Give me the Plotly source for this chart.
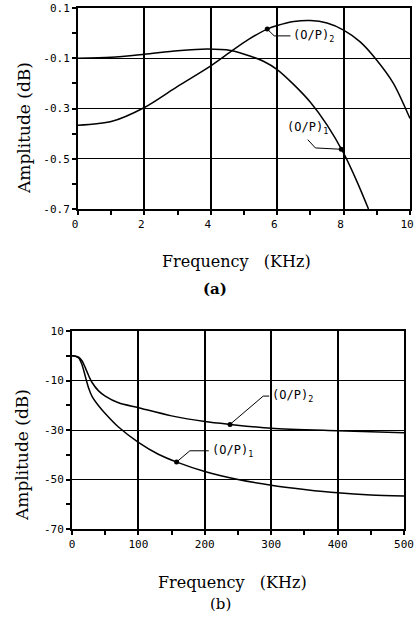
import numpy as np
import plotly.graph_objects as go

# ---------------- data ----------------
# (a) 0-10 kHz
a_x1 = [0, 1, 2, 3, 3.9, 4.6, 5.2, 5.6, 6, 6.5, 7, 7.5, 8, 8.4, 8.75]
a_y1 = [-0.100, -0.096, -0.084, -0.070, -0.063, -0.069, -0.092, -0.113, -0.145,
        -0.205, -0.275, -0.365, -0.478, -0.59, -0.70]
a_x2 = [0, 1, 2, 3, 4, 4.65, 5.15, 5.7, 6, 6.5, 7, 7.5, 8, 8.5, 9, 9.5, 10]
a_y2 = [-0.367, -0.352, -0.296, -0.212, -0.130, -0.069, -0.024, 0.016, 0.030,
        0.046, 0.050, 0.040, 0.012, -0.035, -0.108, -0.200, -0.340]

# (b) 0-500 kHz
b_x1 = [0, 5, 10, 15, 20, 25, 30, 40, 50, 70, 100, 130, 160, 200, 250, 300, 350, 400, 450, 500]
b_y1 = [0, -0.2, -0.9, -3.5, -8.3, -13.0, -16.3, -20.2, -23.3, -28.8, -35.0, -39.8,
        -43.2, -46.8, -50.0, -52.3, -54.0, -55.4, -56.3, -56.7]
b_x2 = [0, 5, 10, 15, 20, 25, 30, 40, 50, 70, 100, 150, 200, 240, 300, 400, 500]
b_y2 = [0, -0.2, -0.6, -2.0, -4.8, -8.0, -10.7, -14.2, -16.3, -19.0, -21.0, -24.3,
        -26.6, -27.8, -29.3, -30.3, -31.1]

# tick labels
a_xticks = [0, 2, 4, 6, 8, 10]
a_xtext = ["0", "2", "4", "6", "8", "10"]
a_yticks = [-0.7, -0.5, -0.3, -0.1, 0.1]
a_ytext = ["-0.7", "-0.5", "-0.3", "-0.1", "0.1"]
b_xticks = [0, 100, 200, 300, 400, 500]
b_xtext = ["0", "100", "200", "300", "400", "500"]
b_yticks = [-70, -50, -30, -10, 10]
b_ytext = ["-70", "-50", "-30", "-10", "10"]

# callouts: text, x of point on curve, text anchor (x, y), elbow (x, y), leader end (x, y)
a_lab1 = ("(O/P)<sub>1</sub>", 7.93, (6.22, -0.376), (6.92, -0.424), (7.15, -0.457))
a_lab2 = ("(O/P)<sub>2</sub>", 5.70, (6.43, -0.011), (5.91, -0.011), (6.40, -0.011))
b_lab1 = ("(O/P)<sub>1</sub>", 157.5, (208, -38.4), (177.5, -38.4), (206, -38.4))
b_lab2 = ("(O/P)<sub>2</sub>", 238.0, (298, -16.3), (288, -16.3), (297, -16.3))

W, H = 415, 624
def px(x): return x / W
def py(y): return 1 - y / H

SERIF = "DejaVu Serif"
MONO = "DejaVu Sans Mono"

fig = go.Figure()

def curve(x, y, xa, ya):
    fig.add_trace(go.Scatter(x=x, y=y, mode="lines", xaxis=xa, yaxis=ya,
                             line=dict(color="black", width=1.5, shape="spline", smoothing=0.8),
                             showlegend=False, hoverinfo="skip"))

curve(a_x1, a_y1, "x", "y")
curve(a_x2, a_y2, "x", "y")
curve(b_x1, b_y1, "x2", "y2")
curve(b_x2, b_y2, "x2", "y2")

def callout(lab, cx, cy, xa, ya, marker_first=True):
    text, xm, (tx, ty), (ex, ey), (hx, hy) = lab
    ym = float(np.interp(xm, cx, cy))
    if marker_first:
        lx, ly = [xm, ex, hx], [ym, ey, hy]
    else:
        lx, ly = [ex, hx, xm], [ey, hy, ym]
    fig.add_trace(go.Scatter(x=lx, y=ly, mode="lines", xaxis=xa, yaxis=ya,
                             line=dict(color="black", width=1), showlegend=False, hoverinfo="skip"))
    fig.add_trace(go.Scatter(x=[xm], y=[ym], mode="markers", xaxis=xa, yaxis=ya,
                             marker=dict(color="black", size=5), showlegend=False, hoverinfo="skip"))
    fig.add_annotation(x=tx, y=ty, xref=xa, yref=ya, text=text, showarrow=False,
                       xanchor="left", yanchor="middle",
                       font=dict(family=MONO, size=12, color="black"))

callout(a_lab1, a_x1, a_y1, "x", "y", marker_first=False)
callout(a_lab2, a_x2, a_y2, "x", "y")
callout(b_lab1, b_x1, b_y1, "x2", "y2")
callout(b_lab2, b_x2, b_y2, "x2", "y2")

tickfont = dict(family=MONO, size=11, color="black")
common = dict(showline=True, mirror=True, linecolor="black", linewidth=2,
              ticks="outside", ticklen=4, tickwidth=1.5, tickcolor="black",
              tickfont=tickfont, zeroline=False, showgrid=True, gridcolor="black",
              ticklabeloverflow="allow", automargin=False)

fig.update_layout(
    width=W, height=H, margin=dict(l=0, r=0, t=0, b=0, pad=0, autoexpand=False),
    paper_bgcolor="white", plot_bgcolor="white", showlegend=False,
    xaxis=dict(domain=[px(78), px(410)], anchor="y", range=[0, 10],
               tickvals=a_xticks, ticktext=a_xtext, gridwidth=2, ticklabelshift=-3,
               minor=dict(dtick=1, tick0=0, ticks="outside", ticklen=4, tickcolor="black", showgrid=False),
               **common),
    yaxis=dict(domain=[py(209), py(8)], anchor="x", range=[-0.7, 0.1],
               tickvals=a_yticks, ticktext=a_ytext, gridwidth=1.2,
               minor=dict(dtick=0.2, tick0=0, ticks="outside", ticklen=4, tickcolor="black", showgrid=False),
               **common),
    xaxis2=dict(domain=[px(72), px(404)], anchor="y2", range=[0, 500],
                tickvals=b_xticks, ticktext=b_xtext, gridwidth=2,
                minor=dict(dtick=50, tick0=0, ticks="outside", ticklen=4, tickcolor="black", showgrid=False),
                **common),
    yaxis2=dict(domain=[py(529), py(331)], anchor="x2", range=[-70, 10],
                tickvals=b_yticks, ticktext=b_ytext, gridwidth=1.2,
                minor=dict(dtick=20, tick0=0, ticks="outside", ticklen=4, tickcolor="black", showgrid=False),
                **common),
)

nb = "\u00a0"
labels = [
    ("Amplitude (dB)", 24, 128, -90, 17),
    ("Frequency" + nb * 3 + "(KHz)", 236, 261, 0, 16),
    ("<b>(a)</b>", 215, 289, 0, 15),
    ("Amplitude (dB)", 22, 455, -90, 17),
    ("Frequency" + nb * 3 + "(KHz)", 232, 582, 0, 16),
    ("(b)", 220, 604, 0, 15),
]
for t, x, y, ang, size in labels:
    fig.add_annotation(x=px(x), y=py(y), xref="paper", yref="paper", text=t, showarrow=False,
                       textangle=ang, xanchor="center", yanchor="middle",
                       font=dict(family=SERIF, size=size, color="black"))

fig.write_html("out.html", config={"displayModeBar": False},
               post_script="document.body.style.margin='0';document.body.style.overflow='hidden';")
